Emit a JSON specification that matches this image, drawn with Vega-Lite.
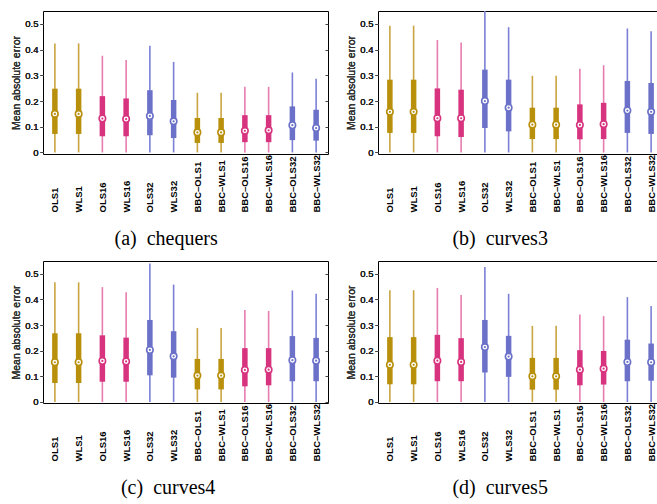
{
  "$schema": "https://vega.github.io/schema/vega-lite/v6.json",
  "padding": {"left": 11, "top": 10, "right": 0, "bottom": 0},
  "background": "white",
  "spacing": {"row": 10, "column": 17},
  "config": {
    "view": {"stroke": "black", "strokeWidth": 1},
    "axis": {"labelFont": "Liberation Sans", "titleFont": "Liberation Sans", "labelColor": "#222", "titleColor": "#333", "grid": false, "titleFontWeight": "normal"},
    "axisLeft": {"values": [0, 0.1, 0.2, 0.3, 0.4, 0.5], "titleFontSize": 10.5, "titleFontWeight": "normal", "labelFontSize": 9.5, "tickSize": 3, "labelPadding": 2, "titlePadding": 3, "domain": false, "tickColor": "#444", "labelExpr": "datum.value == 0 ? '0' : format(datum.value, '.1f')"},
    "axisRight": {"values": [0, 0.1, 0.2, 0.3, 0.4, 0.5], "labels": false, "tickSize": -3, "domain": false, "tickColor": "#444", "minExtent": 0},
    "axisBottom": {"labelColor": "black"},
    "title": {"font": "Liberation Serif", "fontSize": 20, "fontWeight": "normal", "color": "black", "orient": "bottom", "anchor": "middle", "frame": "bounds", "offset": 17}
  },
  "datasets": {
    "stats": [
      {"panel": "a", "method": "OLS1", "grp": "1", "min": 0, "q1": 0.072, "median": 0.150, "q3": 0.248, "max": 0.424},
      {"panel": "a", "method": "WLS1", "grp": "1", "min": 0, "q1": 0.072, "median": 0.150, "q3": 0.248, "max": 0.424},
      {"panel": "a", "method": "OLS16", "grp": "16", "min": 0, "q1": 0.063, "median": 0.132, "q3": 0.219, "max": 0.376},
      {"panel": "a", "method": "WLS16", "grp": "16", "min": 0, "q1": 0.063, "median": 0.130, "q3": 0.210, "max": 0.359},
      {"panel": "a", "method": "OLS32", "grp": "32", "min": 0, "q1": 0.067, "median": 0.142, "q3": 0.242, "max": 0.415},
      {"panel": "a", "method": "WLS32", "grp": "32", "min": 0, "q1": 0.056, "median": 0.121, "q3": 0.204, "max": 0.352},
      {"panel": "a", "method": "BBC–OLS1", "grp": "1", "min": 0, "q1": 0.037, "median": 0.078, "q3": 0.134, "max": 0.232},
      {"panel": "a", "method": "BBC–WLS1", "grp": "1", "min": 0, "q1": 0.037, "median": 0.078, "q3": 0.134, "max": 0.232},
      {"panel": "a", "method": "BBC–OLS16", "grp": "16", "min": 0, "q1": 0.040, "median": 0.084, "q3": 0.145, "max": 0.255},
      {"panel": "a", "method": "BBC–WLS16", "grp": "16", "min": 0, "q1": 0.040, "median": 0.086, "q3": 0.145, "max": 0.255},
      {"panel": "a", "method": "BBC–OLS32", "grp": "32", "min": 0, "q1": 0.048, "median": 0.106, "q3": 0.179, "max": 0.311},
      {"panel": "a", "method": "BBC–WLS32", "grp": "32", "min": 0, "q1": 0.046, "median": 0.095, "q3": 0.166, "max": 0.287},

      {"panel": "b", "method": "OLS1", "grp": "1", "min": 0, "q1": 0.076, "median": 0.158, "q3": 0.283, "max": 0.493},
      {"panel": "b", "method": "WLS1", "grp": "1", "min": 0, "q1": 0.076, "median": 0.158, "q3": 0.283, "max": 0.493},
      {"panel": "b", "method": "OLS16", "grp": "16", "min": 0, "q1": 0.063, "median": 0.133, "q3": 0.249, "max": 0.437},
      {"panel": "b", "method": "WLS16", "grp": "16", "min": 0, "q1": 0.060, "median": 0.133, "q3": 0.244, "max": 0.428},
      {"panel": "b", "method": "OLS32", "grp": "32", "min": 0, "q1": 0.095, "median": 0.200, "q3": 0.322, "max": 0.55},
      {"panel": "b", "method": "WLS32", "grp": "32", "min": 0, "q1": 0.082, "median": 0.174, "q3": 0.283, "max": 0.487},
      {"panel": "b", "method": "BBC–OLS1", "grp": "1", "min": 0, "q1": 0.052, "median": 0.108, "q3": 0.174, "max": 0.298},
      {"panel": "b", "method": "BBC–WLS1", "grp": "1", "min": 0, "q1": 0.052, "median": 0.108, "q3": 0.174, "max": 0.298},
      {"panel": "b", "method": "BBC–OLS16", "grp": "16", "min": 0, "q1": 0.051, "median": 0.107, "q3": 0.187, "max": 0.325},
      {"panel": "b", "method": "BBC–WLS16", "grp": "16", "min": 0, "q1": 0.052, "median": 0.110, "q3": 0.193, "max": 0.339},
      {"panel": "b", "method": "BBC–OLS32", "grp": "32", "min": 0, "q1": 0.076, "median": 0.163, "q3": 0.278, "max": 0.482},
      {"panel": "b", "method": "BBC–WLS32", "grp": "32", "min": 0, "q1": 0.072, "median": 0.158, "q3": 0.270, "max": 0.471},

      {"panel": "c", "method": "OLS1", "grp": "1", "min": 0, "q1": 0.074, "median": 0.155, "q3": 0.268, "max": 0.467},
      {"panel": "c", "method": "WLS1", "grp": "1", "min": 0, "q1": 0.074, "median": 0.155, "q3": 0.268, "max": 0.467},
      {"panel": "c", "method": "OLS16", "grp": "16", "min": 0, "q1": 0.079, "median": 0.160, "q3": 0.260, "max": 0.448},
      {"panel": "c", "method": "WLS16", "grp": "16", "min": 0, "q1": 0.079, "median": 0.158, "q3": 0.251, "max": 0.428},
      {"panel": "c", "method": "OLS32", "grp": "32", "min": 0, "q1": 0.104, "median": 0.203, "q3": 0.320, "max": 0.540},
      {"panel": "c", "method": "WLS32", "grp": "32", "min": 0, "q1": 0.095, "median": 0.178, "q3": 0.276, "max": 0.458},
      {"panel": "c", "method": "BBC–OLS1", "grp": "1", "min": 0, "q1": 0.049, "median": 0.103, "q3": 0.168, "max": 0.289},
      {"panel": "c", "method": "BBC–WLS1", "grp": "1", "min": 0, "q1": 0.049, "median": 0.103, "q3": 0.168, "max": 0.289},
      {"panel": "c", "method": "BBC–OLS16", "grp": "16", "min": 0, "q1": 0.061, "median": 0.125, "q3": 0.210, "max": 0.359},
      {"panel": "c", "method": "BBC–WLS16", "grp": "16", "min": 0, "q1": 0.065, "median": 0.126, "q3": 0.210, "max": 0.355},
      {"panel": "c", "method": "BBC–OLS32", "grp": "32", "min": 0, "q1": 0.081, "median": 0.163, "q3": 0.257, "max": 0.435},
      {"panel": "c", "method": "BBC–WLS32", "grp": "32", "min": 0, "q1": 0.081, "median": 0.161, "q3": 0.250, "max": 0.422},

      {"panel": "d", "method": "OLS1", "grp": "1", "min": 0, "q1": 0.069, "median": 0.145, "q3": 0.253, "max": 0.436},
      {"panel": "d", "method": "WLS1", "grp": "1", "min": 0, "q1": 0.069, "median": 0.145, "q3": 0.253, "max": 0.436},
      {"panel": "d", "method": "OLS16", "grp": "16", "min": 0, "q1": 0.081, "median": 0.161, "q3": 0.262, "max": 0.445},
      {"panel": "d", "method": "WLS16", "grp": "16", "min": 0, "q1": 0.081, "median": 0.156, "q3": 0.249, "max": 0.417},
      {"panel": "d", "method": "OLS32", "grp": "32", "min": 0, "q1": 0.115, "median": 0.214, "q3": 0.320, "max": 0.527},
      {"panel": "d", "method": "WLS32", "grp": "32", "min": 0, "q1": 0.098, "median": 0.177, "q3": 0.258, "max": 0.422},
      {"panel": "d", "method": "BBC–OLS1", "grp": "1", "min": 0, "q1": 0.048, "median": 0.100, "q3": 0.172, "max": 0.297},
      {"panel": "d", "method": "BBC–WLS1", "grp": "1", "min": 0, "q1": 0.048, "median": 0.100, "q3": 0.172, "max": 0.297},
      {"panel": "d", "method": "BBC–OLS16", "grp": "16", "min": 0, "q1": 0.065, "median": 0.126, "q3": 0.202, "max": 0.341},
      {"panel": "d", "method": "BBC–WLS16", "grp": "16", "min": 0, "q1": 0.068, "median": 0.130, "q3": 0.199, "max": 0.335},
      {"panel": "d", "method": "BBC–OLS32", "grp": "32", "min": 0, "q1": 0.081, "median": 0.156, "q3": 0.243, "max": 0.409},
      {"panel": "d", "method": "BBC–WLS32", "grp": "32", "min": 0, "q1": 0.083, "median": 0.155, "q3": 0.228, "max": 0.374}
    ]
  },
  "columns": 2,
  "concat": [
    {
      "title": {"text": "(a)\u00a0 chequers", "dx": -4},
      "width": 285, "height": 143,
      "data": {"name": "stats"},
      "transform": [{"filter": "datum.panel == 'a'"}],
      "encoding": {
        "x": {"field": "method", "type": "nominal", "sort": null, "scale": {"type": "point", "padding": 0.5},
              "axis": {"title": null, "labelAngle": 270, "labelAlign": "left", "labelBaseline": "middle", "labelPadding": 58, "ticks": false, "domain": false, "labelFontWeight": "bold", "labelFontSize": 9.5, "labelColor": "black"}}
      },
      "layer": [
        {"mark": {"type": "rule", "strokeWidth": 1.6},
         "encoding": {"y": {"field": "min", "type": "quantitative", "scale": {"domain": [-0.006, 0.55], "nice": false, "zero": false},
                            "axis": {"orient": "right", "title": null}},
                      "y2": {"field": "max"},
                      "color": {"field": "grp", "type": "nominal", "scale": {"domain": ["1", "16", "32"], "range": ["#c9a43f", "#e67cb0", "#7b80d6"]}, "legend": null}}},
        {"mark": {"type": "rule", "strokeWidth": 5.5, "strokeCap": "butt"},
         "encoding": {"y": {"field": "q1", "type": "quantitative", "axis": {"orient": "left", "title": "Mean absolute error", "titleFontWeight": "normal"}},
                      "y2": {"field": "q3"},
                      "stroke": {"field": "grp", "type": "nominal", "scale": {"domain": ["1", "16", "32"], "range": ["#b8900c", "#d7337f", "#6b70c8"]}, "legend": null}}},
        {"mark": {"type": "point", "filled": false, "fill": "white", "fillOpacity": 1, "size": 42, "strokeWidth": 1.6, "opacity": 1},
         "encoding": {"y": {"field": "median", "type": "quantitative", "axis": {"orient": "left", "title": "Mean absolute error", "titleFontWeight": "normal"}},
                      "stroke": {"field": "grp", "type": "nominal", "legend": null}}},
        {"mark": {"type": "point", "filled": true, "size": 5, "opacity": 1},
         "encoding": {"y": {"field": "median", "type": "quantitative", "axis": {"orient": "left", "title": "Mean absolute error", "titleFontWeight": "normal"}},
                      "fill": {"field": "grp", "type": "nominal", "scale": {"domain": ["1", "16", "32"], "range": ["#b8900c", "#d7337f", "#6b70c8"]}, "legend": null}}}
      ]
    },
    {
      "title": {"text": "(b)\u00a0 curves3", "dx": -5},
      "width": 285, "height": 143,
      "data": {"name": "stats"},
      "transform": [{"filter": "datum.panel == 'b'"}],
      "encoding": {
        "x": {"field": "method", "type": "nominal", "sort": null, "scale": {"type": "point", "padding": 0.5},
              "axis": {"title": null, "labelAngle": 270, "labelAlign": "left", "labelBaseline": "middle", "labelPadding": 58, "ticks": false, "domain": false, "labelFontWeight": "bold", "labelFontSize": 9.5, "labelColor": "black"}}
      },
      "layer": [
        {"mark": {"type": "rule", "strokeWidth": 1.6, "clip": true},
         "encoding": {"y": {"field": "min", "type": "quantitative", "scale": {"domain": [-0.006, 0.55], "nice": false, "zero": false},
                            "axis": {"orient": "right", "title": null}},
                      "y2": {"field": "max"},
                      "color": {"field": "grp", "type": "nominal", "scale": {"domain": ["1", "16", "32"], "range": ["#c9a43f", "#e67cb0", "#7b80d6"]}, "legend": null}}},
        {"mark": {"type": "rule", "strokeWidth": 5.5, "strokeCap": "butt"},
         "encoding": {"y": {"field": "q1", "type": "quantitative", "axis": {"orient": "left", "title": "Mean absolute error", "titleFontWeight": "normal"}},
                      "y2": {"field": "q3"},
                      "stroke": {"field": "grp", "type": "nominal", "scale": {"domain": ["1", "16", "32"], "range": ["#b8900c", "#d7337f", "#6b70c8"]}, "legend": null}}},
        {"mark": {"type": "point", "filled": false, "fill": "white", "fillOpacity": 1, "size": 42, "strokeWidth": 1.6, "opacity": 1},
         "encoding": {"y": {"field": "median", "type": "quantitative", "axis": {"orient": "left", "title": "Mean absolute error", "titleFontWeight": "normal"}},
                      "stroke": {"field": "grp", "type": "nominal", "legend": null}}},
        {"mark": {"type": "point", "filled": true, "size": 5, "opacity": 1},
         "encoding": {"y": {"field": "median", "type": "quantitative", "axis": {"orient": "left", "title": "Mean absolute error", "titleFontWeight": "normal"}},
                      "fill": {"field": "grp", "type": "nominal", "scale": {"domain": ["1", "16", "32"], "range": ["#b8900c", "#d7337f", "#6b70c8"]}, "legend": null}}}
      ]
    },
    {
      "title": {"text": "(c)\u00a0 curves4", "dx": -2},
      "width": 285, "height": 142,
      "data": {"name": "stats"},
      "transform": [{"filter": "datum.panel == 'c'"}],
      "encoding": {
        "x": {"field": "method", "type": "nominal", "sort": null, "scale": {"type": "point", "padding": 0.5},
              "axis": {"title": null, "labelAngle": 270, "labelAlign": "left", "labelBaseline": "middle", "labelPadding": 58, "ticks": false, "domain": false, "labelFontWeight": "bold", "labelFontSize": 9.5, "labelColor": "black"}}
      },
      "layer": [
        {"mark": {"type": "rule", "strokeWidth": 1.6},
         "encoding": {"y": {"field": "min", "type": "quantitative", "scale": {"domain": [-0.004, 0.55], "nice": false, "zero": false},
                            "axis": {"orient": "right", "title": null}},
                      "y2": {"field": "max"},
                      "color": {"field": "grp", "type": "nominal", "scale": {"domain": ["1", "16", "32"], "range": ["#c9a43f", "#e67cb0", "#7b80d6"]}, "legend": null}}},
        {"mark": {"type": "rule", "strokeWidth": 5.5, "strokeCap": "butt"},
         "encoding": {"y": {"field": "q1", "type": "quantitative", "axis": {"orient": "left", "title": "Mean absolute error", "titleFontWeight": "normal"}},
                      "y2": {"field": "q3"},
                      "stroke": {"field": "grp", "type": "nominal", "scale": {"domain": ["1", "16", "32"], "range": ["#b8900c", "#d7337f", "#6b70c8"]}, "legend": null}}},
        {"mark": {"type": "point", "filled": false, "fill": "white", "fillOpacity": 1, "size": 42, "strokeWidth": 1.6, "opacity": 1},
         "encoding": {"y": {"field": "median", "type": "quantitative", "axis": {"orient": "left", "title": "Mean absolute error", "titleFontWeight": "normal"}},
                      "stroke": {"field": "grp", "type": "nominal", "legend": null}}},
        {"mark": {"type": "point", "filled": true, "size": 5, "opacity": 1},
         "encoding": {"y": {"field": "median", "type": "quantitative", "axis": {"orient": "left", "title": "Mean absolute error", "titleFontWeight": "normal"}},
                      "fill": {"field": "grp", "type": "nominal", "scale": {"domain": ["1", "16", "32"], "range": ["#b8900c", "#d7337f", "#6b70c8"]}, "legend": null}}}
      ]
    },
    {
      "title": {"text": "(d)\u00a0 curves5", "dx": -5},
      "width": 285, "height": 142,
      "data": {"name": "stats"},
      "transform": [{"filter": "datum.panel == 'd'"}],
      "encoding": {
        "x": {"field": "method", "type": "nominal", "sort": null, "scale": {"type": "point", "padding": 0.5},
              "axis": {"title": null, "labelAngle": 270, "labelAlign": "left", "labelBaseline": "middle", "labelPadding": 58, "ticks": false, "domain": false, "labelFontWeight": "bold", "labelFontSize": 9.5, "labelColor": "black"}}
      },
      "layer": [
        {"mark": {"type": "rule", "strokeWidth": 1.6},
         "encoding": {"y": {"field": "min", "type": "quantitative", "scale": {"domain": [-0.004, 0.55], "nice": false, "zero": false},
                            "axis": {"orient": "right", "title": null}},
                      "y2": {"field": "max"},
                      "color": {"field": "grp", "type": "nominal", "scale": {"domain": ["1", "16", "32"], "range": ["#c9a43f", "#e67cb0", "#7b80d6"]}, "legend": null}}},
        {"mark": {"type": "rule", "strokeWidth": 5.5, "strokeCap": "butt"},
         "encoding": {"y": {"field": "q1", "type": "quantitative", "axis": {"orient": "left", "title": "Mean absolute error", "titleFontWeight": "normal"}},
                      "y2": {"field": "q3"},
                      "stroke": {"field": "grp", "type": "nominal", "scale": {"domain": ["1", "16", "32"], "range": ["#b8900c", "#d7337f", "#6b70c8"]}, "legend": null}}},
        {"mark": {"type": "point", "filled": false, "fill": "white", "fillOpacity": 1, "size": 42, "strokeWidth": 1.6, "opacity": 1},
         "encoding": {"y": {"field": "median", "type": "quantitative", "axis": {"orient": "left", "title": "Mean absolute error", "titleFontWeight": "normal"}},
                      "stroke": {"field": "grp", "type": "nominal", "legend": null}}},
        {"mark": {"type": "point", "filled": true, "size": 5, "opacity": 1},
         "encoding": {"y": {"field": "median", "type": "quantitative", "axis": {"orient": "left", "title": "Mean absolute error", "titleFontWeight": "normal"}},
                      "fill": {"field": "grp", "type": "nominal", "scale": {"domain": ["1", "16", "32"], "range": ["#b8900c", "#d7337f", "#6b70c8"]}, "legend": null}}}
      ]
    }
  ]
}
